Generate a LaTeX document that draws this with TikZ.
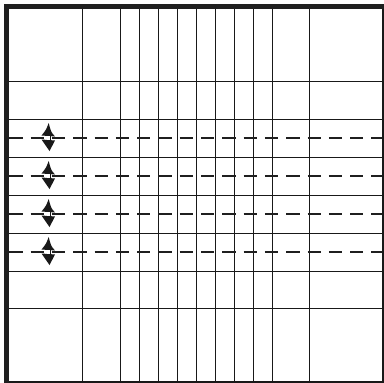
\documentclass[tikz,border=0pt]{standalone}
\begin{document}
\begin{tikzpicture}[x=1pt,y=-1pt,
  gridline/.style={line width=0.85pt,black!90},
  dashline/.style={line width=2.9pt,black!88,dash pattern=on 13.3pt off 8pt,dash phase=0pt},
  head/.style={fill=black!90,draw=none}]
\useasboundingbox (0,0) rectangle (384,383);
\fill[white] (0,0) rectangle (384,383);
% vertical grid lines
\foreach \x in {82,120,139,158,177,196,215,234,253,272,309}
  \draw[gridline] (\x,6) -- (\x,382);
% solid horizontal grid lines
\foreach \y in {81,119,157,195,233,271,308}
  \draw[gridline] (6,\y) -- (383,\y);
% dashed lines
\foreach \y in {138,176,214,252}
  \draw[dashline] (9.3,\y) -- (384,\y);
% double arrows
\foreach \y in {138,176,214,252}{
  \fill[head] (48.7,\y-15) .. controls (46,\y-8) .. (41.5,\y-2.5) -- (55,\y-1.5) .. controls (51,\y-6) .. cycle;
  \fill[head] (49.5,\y+13) .. controls (46,\y+7) .. (41.5,\y+1.5) -- (55,\y+2.5) .. controls (52,\y+7) .. cycle;
  \fill[white] (46.5,\y-2.2) rectangle (50.5,\y+2.2);
  \fill[black!90] (49.5,\y-2.2) rectangle (50.8,\y+2.2);
}
% borders
\draw[line width=2pt,black!90] (6,382.2) -- (383,382.2);
\draw[line width=2pt,black!90] (382.8,6) -- (382.8,383);
\draw[line width=5pt,black!88] (6.5,383) -- (6.5,6.5) -- (384,6.5);
\end{tikzpicture}
\end{document}
